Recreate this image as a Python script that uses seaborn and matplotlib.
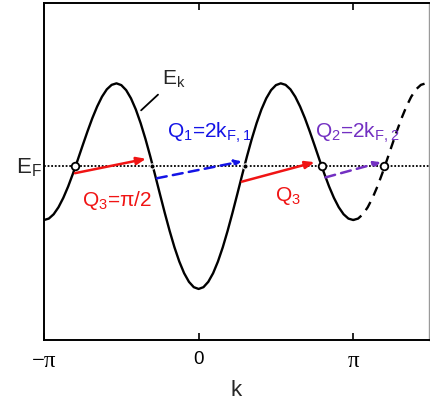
import matplotlib
matplotlib.use("Agg")
import matplotlib.pyplot as plt
import seaborn as sns
import numpy as np
import pandas as pd


k_pi = np.linspace(-1.0, 1.5, 81)
energy = [-0.593, -0.576, -0.525, -0.442, -0.331, -0.197, -0.044, 0.120,
          0.288, 0.453, 0.609, 0.747, 0.863, 0.950, 1.003, 1.021,
          1.000, 0.941, 0.844, 0.713, 0.551, 0.364, 0.157, -0.063,
          -0.288, -0.510, -0.721, -0.915, -1.083, -1.221, -1.323, -1.386,
          -1.407,
          -1.386, -1.323, -1.221, -1.083, -0.915, -0.721, -0.510, -0.288,
          -0.063, 0.157, 0.364, 0.551, 0.713, 0.844, 0.941, 1.000,
          1.021, 1.003, 0.950, 0.863, 0.747, 0.609, 0.453, 0.288,
          0.120, -0.044, -0.197, -0.331, -0.442, -0.525, -0.576, -0.593,
          -0.576, -0.525, -0.442, -0.331, -0.197, -0.044, 0.120, 0.288,
          0.453, 0.609, 0.747, 0.863, 0.950, 1.003, 1.021, 1.000]

E_F = 0.04

# Fermi crossings
kf_open = [-0.80, 0.80, 1.20]
kf_dot = [-0.30, 0.30]

# nesting vectors: (k start, E start) -> (k end, E end)
q_start = [(-0.80, -0.04), (-0.27, -0.10), (0.28, -0.14), (0.82, -0.09)]
q_end = [(-0.34, 0.13), (0.28, 0.10), (0.75, 0.09), (1.18, 0.09)]
q_colors = ['#f01414', '#1414e6', '#f01414', '#7330c2']
q_dashed = [False, True, False, True]

tick_pos = [-1, 0, 1]
tick_labels = ['\u2212\u03c0', '0', '\u03c0']

df = pd.DataFrame({'k': k_pi, 'E': energy})
solid = df[df['k'] <= 1.0]
dashed = df[df['k'] >= 1.0]

sns.set_style('ticks')
plt.rcParams['font.family'] = ['Liberation Sans', 'DejaVu Sans']
plt.rcParams['mathtext.default'] = 'regular'

fig = plt.figure(figsize=(4.30, 4.03), dpi=100)
ax = fig.add_axes([0.1023, 0.1563, 0.8954, 0.8363])

# Fermi level
ax.axhline(E_F, color='k', lw=1.3, ls=(0, (1, 1)), zorder=1)

# dispersion: solid inside the zone, dashed beyond pi
sns.lineplot(data=solid, x='k', y='E', color='k', lw=1.7, sort=False,
             estimator=None, ax=ax, zorder=3)
sns.lineplot(data=dashed, x='k', y='E', color='k', lw=1.7, sort=False,
             estimator=None, ax=ax, zorder=3, linestyle=(0, (4, 3)))

# nesting arrows
for (x0, y0), (x1, y1), c, d in zip(q_start, q_end, q_colors, q_dashed):
    style = '-|>,head_length=0.4,head_width=0.17' if d else '-|>,head_length=0.55,head_width=0.22'
    ax.annotate('', xy=(x1, y1), xytext=(x0, y0),
                arrowprops=dict(arrowstyle=style, color=c, lw=1.8,
                                shrinkA=0, shrinkB=0,
                                linestyle=(0, (4, 2.5)) if d else '-'),
                zorder=4)

# crossing markers
sns.scatterplot(x=kf_open, y=[E_F] * len(kf_open), ax=ax, s=30, marker='o',
                facecolor='white', edgecolor='k', linewidth=1.3, zorder=5)
sns.scatterplot(x=kf_dot, y=[E_F] * len(kf_dot), ax=ax, s=14, marker='o',
                color='k', edgecolor='white', linewidth=0.8, zorder=5)

# labels
fs = 15
ax.annotate('E$_k$', xy=(-0.385, 0.68), xytext=(-0.235, 1.0),
            fontsize=fs, ha='left', va='baseline',
            arrowprops=dict(arrowstyle='-', color='k', lw=1.3,
                            shrinkA=1, shrinkB=2))
ax.text(-1.178, -0.04, 'E$_F$', fontsize=fs + 1, ha='left', va='baseline',
        clip_on=False)
ax.text(-0.207, 0.374, 'Q$_1$=2k$_{F,1}$', color=q_colors[1], fontsize=fs,
        ha='left', va='baseline')
ax.text(0.751, 0.374, 'Q$_2$=2k$_{F,2}$', color=q_colors[3], fontsize=fs,
        ha='left', va='baseline')
ax.text(-0.757, -0.43, 'Q$_3$=\u03c0/2', color=q_colors[0], fontsize=fs,
        ha='left', va='baseline')
ax.text(0.492, -0.37, 'Q$_3$', color=q_colors[2], fontsize=fs,
        ha='left', va='baseline')

ax.set_xlim(-1.0, 1.49)
ax.set_ylim(-2.01, 1.97)
ax.set_xticks(tick_pos)
ax.set_xticklabels(tick_labels, fontsize=13.5)
for lab in ax.get_xticklabels():
    if '\u03c0' in lab.get_text():
        lab.set_fontfamily(['Liberation Serif', 'DejaVu Serif'])
        lab.set_fontsize(16.5)
ax.set_yticks([])
ax.tick_params(axis='x', direction='in', length=5, width=1.2, top=True,
               pad=8, colors='k')
ax.set_xlabel('k', fontsize=16, labelpad=6)
ax.set_ylabel('')

for side in ['left', 'bottom', 'top']:
    ax.spines[side].set_color('k')
    ax.spines[side].set_linewidth(1.4)
ax.spines['right'].set_color('#9a9a9a')
ax.spines['right'].set_linewidth(1.0)

fig.savefig('out.png', dpi=100)
